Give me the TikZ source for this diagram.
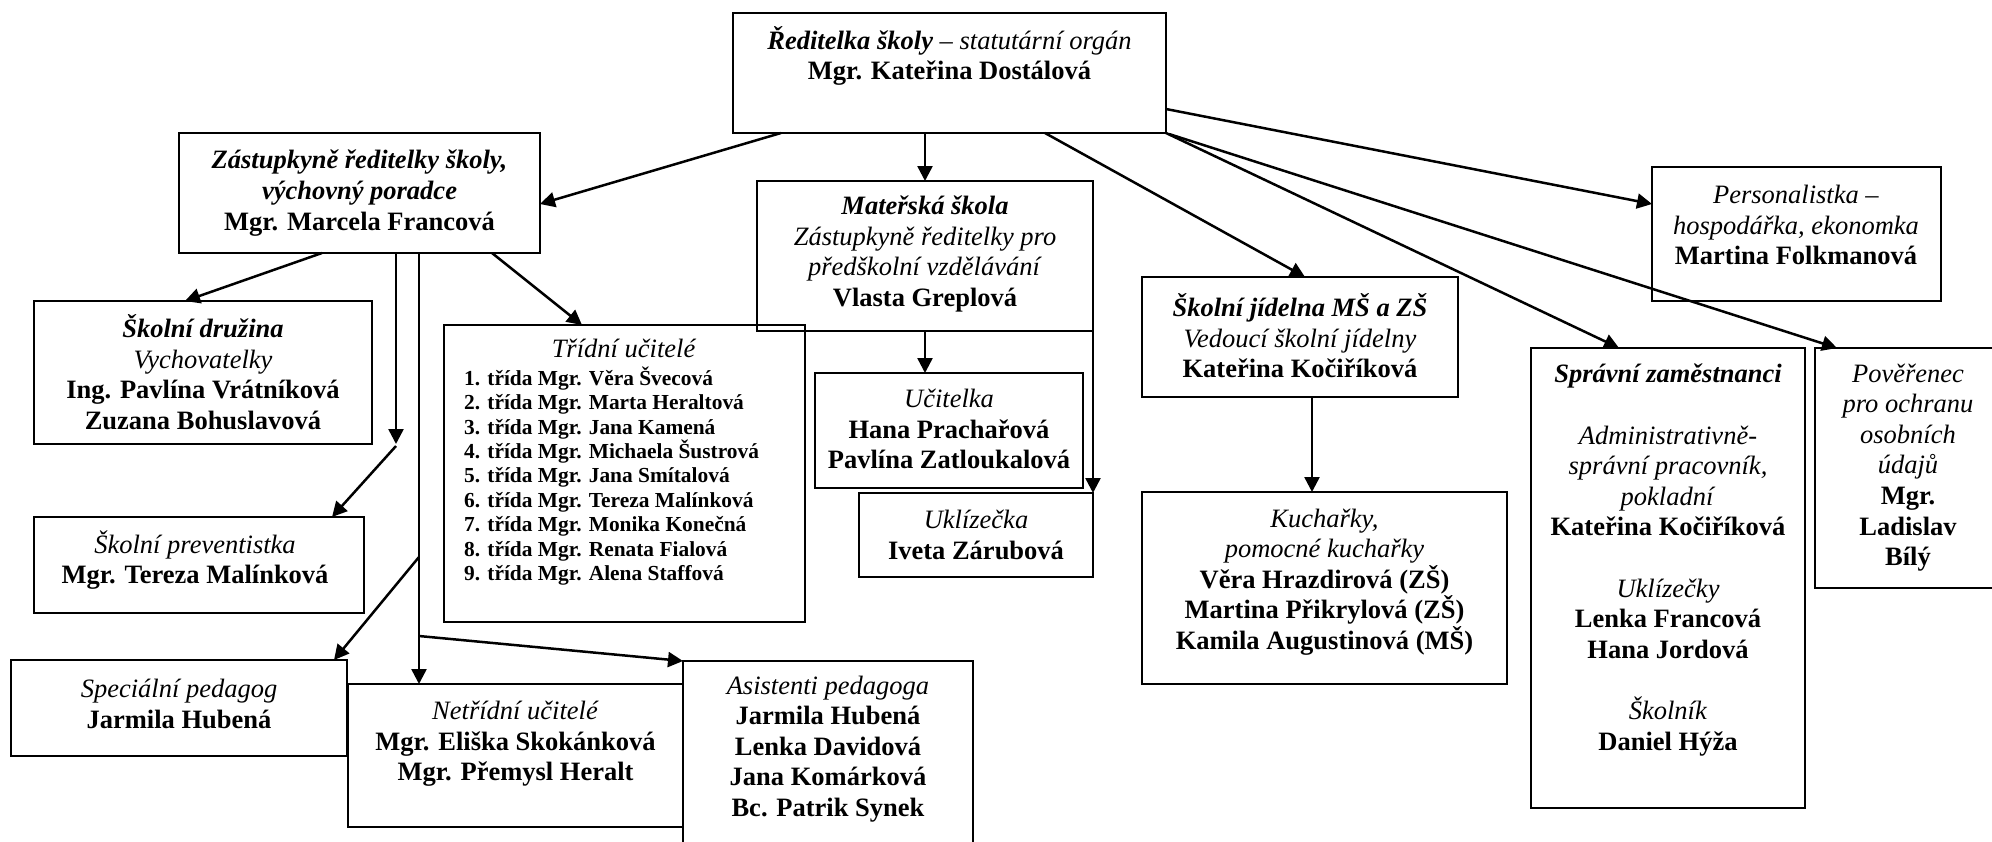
\documentclass[tikz,border=0pt]{standalone}
\usepackage{fontspec}
\setmainfont{Liberation Serif}
\usetikzlibrary{arrows.meta}
\tikzset{
 box/.style={draw, line width=1.8pt, inner sep=0pt, outer sep=0pt, anchor=north west},
 txt/.style={align=center, inner sep=0pt, font=\fontsize{26.5}{30.6}\selectfont},
 lst/.style={align=left, inner sep=0pt, anchor=west, font=\fontsize{21.4}{24.4}\selectfont\bfseries},
 conn/.style={line width=2.5pt, -{Triangle[length=15pt,width=15pt]}},
}
\begin{document}
\begin{tikzpicture}[x=1pt,y=-1pt]
\path[use as bounding box, fill=white] (0,0) rectangle (1992,841);

% boxes
\node[box, minimum width=433pt, minimum height=120pt] (dir)  at (733,13)  {};
\node[box, minimum width=361pt, minimum height=120pt] (zas)  at (179,133) {};
\node[box, minimum width=336pt, minimum height=150pt] (ms)   at (757,181) {};
\node[box, minimum width=268pt, minimum height=115pt] (uc)   at (815,373) {};
\node[box, minimum width=234pt, minimum height=84pt]  (ukl)  at (859,493) {};
\node[box, minimum width=338pt, minimum height=143pt] (druz) at (34,301)  {};
\node[box, minimum width=361pt, minimum height=297pt] (tri)  at (444,325) {};
\node[box, minimum width=330pt, minimum height=96pt]  (prev) at (34,517)  {};
\node[box, minimum width=336pt, minimum height=96pt]  (spec) at (11,660)  {};
\node[box, minimum width=335pt, minimum height=143pt] (net)  at (348,684) {};
\node[box, minimum width=290pt, minimum height=209pt] (asi)  at (683,661) {};
\node[box, minimum width=289pt, minimum height=134pt] (per)  at (1652,167) {};
\node[box, minimum width=316pt, minimum height=120pt] (jid)  at (1142,277) {};
\node[box, minimum width=365pt, minimum height=192pt] (kuch) at (1142,492) {};
\node[box, minimum width=274pt, minimum height=460pt] (spr)  at (1531,348) {};
\node[box, minimum width=185pt, minimum height=240pt] (pov)  at (1815,348) {};

% texts
\node[txt] (dirT) at (949.5,56) {\textbf{\textit{Ředitelka školy}} \textit{– statutární orgán}\\ \textbf{Mgr. Kateřina Dostálová}};
\node[txt] (zasT) at (359.5,193) {\textbf{\textit{Zástupkyně ředitelky školy,}}\\ \textbf{\textit{výchovný poradce}}\\ \textbf{Mgr. Marcela Francová}};
\node[txt] (msT) at (925,254) {\textbf{\textit{Mateřská škola}}\\ \textit{Zástupkyně ředitelky pro}\\ \textit{předškolní vzdělávání}\\ \textbf{Vlasta Greplová}};
\node[txt] (ucT) at (949,429) {\textit{Učitelka}\\ \textbf{Hana Prachařová}\\ \textbf{Pavlína Zatloukalová}};
\node[txt] (uklT) at (976,535) {\textit{Uklízečka}\\ \textbf{Iveta Zárubová}};
\node[txt] (druzT) at (203,372) {\textbf{\textit{Školní družina}}\\ \textit{Vychovatelky}\\ \textbf{Ing. Pavlína Vrátníková}\\ \textbf{Zuzana Bohuslavová}};
\node[txt] (triT) at (624,348) {\textit{Třídní učitelé}};
\node[lst] (triL) at (464,476) {1. třída Mgr. Věra Švecová\\ 2. třída Mgr. Marta Heraltová\\ 3. třída Mgr. Jana Kamená\\ 4. třída Mgr. Michaela Šustrová\\ 5. třída Mgr. Jana Smítalová\\ 6. třída Mgr. Tereza Malínková\\ 7. třída Mgr. Monika Konečná\\ 8. třída Mgr. Renata Fialová\\ 9. třída Mgr. Alena Staffová};
\node[txt] (prevT) at (195,560) {\textit{Školní preventistka}\\ \textbf{Mgr. Tereza Malínková}};
\node[txt] (specT) at (179,704) {\textit{Speciální pedagog}\\ \textbf{Jarmila Hubená}};
\node[txt] (netT) at (515.5,744) {\textit{Netřídní učitelé}\\ \textbf{Mgr. Eliška Skokánková}\\ \textbf{Mgr. Přemysl Heralt}};
\node[txt] (asiT) at (828,749) {\textit{Asistenti pedagoga}\\ \textbf{Jarmila Hubená}\\ \textbf{Lenka Davidová}\\ \textbf{Jana Komárková}\\ \textbf{Bc. Patrik Synek}};
\node[txt] (perT) at (1796,225) {\textit{Personalistka –}\\ \textit{hospodářka, ekonomka}\\ \textbf{Martina Folkmanová}};
\node[txt] (jidT) at (1300,336) {\textbf{\textit{Školní jídelna MŠ a ZŠ}}\\ \textit{Vedoucí školní jídelny}\\ \textbf{Kateřina Kočiříková}};
\node[txt] (kuchT) at (1324.5,582) {\textit{Kuchařky,}\\ \textit{pomocné kuchařky}\\ \textbf{Věra Hrazdirová (ZŠ)}\\ \textbf{Martina Přikrylová (ZŠ)}\\ \textbf{Kamila Augustinová (MŠ)}};
\node[txt] (sprT) at (1668,560) {\textbf{\textit{Správní zaměstnanci}}\\[30.6pt] \textit{Administrativně-}\\ \textit{správní pracovník,}\\ \textit{pokladní}\\ \textbf{Kateřina Kočiříková}\\[30.6pt] \textit{Uklízečky}\\ \textbf{Lenka Francová}\\ \textbf{Hana Jordová}\\[30.6pt] \textit{Školník}\\ \textbf{Daniel Hýža}};
\node[txt] (povT) at (1908,467.5) {\textit{Pověřenec}\\ \textit{pro ochranu}\\ \textit{osobních}\\ \textit{údajů}\\ \textbf{Mgr.}\\ \textbf{Ladislav}\\ \textbf{Bílý}};

% junction coordinates on the lines from the deputy
\coordinate (j1) at (396,444);
\coordinate (j1b) at (396,446);
\coordinate (j2) at (419,557);
\coordinate (j3) at (419,636);

% connectors from the director
\draw[conn] ([xshift=48pt]dir.south west) -- ([yshift=-11pt]zas.east);
\draw[conn] (ms.north |- dir.south) -- (ms.north);
\draw[conn] ([xshift=312pt]dir.south west) -- ([xshift=163pt]jid.north west);
\draw[conn] (dir.south east) -- ([xshift=88pt]spr.north west);
\draw[conn] ([xshift=3pt,yshift=-1pt]dir.south east) -- ([xshift=22pt]pov.north west);
\draw[conn] ([yshift=-36pt]dir.east) -- ([yshift=30pt]per.west);

% connectors from the deputy
\draw[conn] ([xshift=143pt]zas.south west) -- ([xshift=151pt]druz.north west);
\draw[conn] ([xshift=217pt]zas.south west) -- (j1);
\draw[conn] (j1b) -- ([xshift=298pt]prev.north west);
\draw[conn] ([xshift=240pt]zas.south west) -- ([xshift=71pt]net.north west);
\draw[conn] (j2) -- ([xshift=323pt]spec.north west);
\draw[conn] (j3) -- (asi.north west);
\draw[conn] ([xshift=313pt]zas.south west) -- ([xshift=138pt]tri.north west);

% kindergarten
\draw[conn] (ms.south) -- (ms.south |- uc.north);
\draw[conn] ([yshift=29pt]ms.south east) -- (ukl.north east);

% canteen
\draw[conn] ([xshift=170pt]jid.south west) -- ([xshift=170pt]kuch.north west);
\end{tikzpicture}
\end{document}
